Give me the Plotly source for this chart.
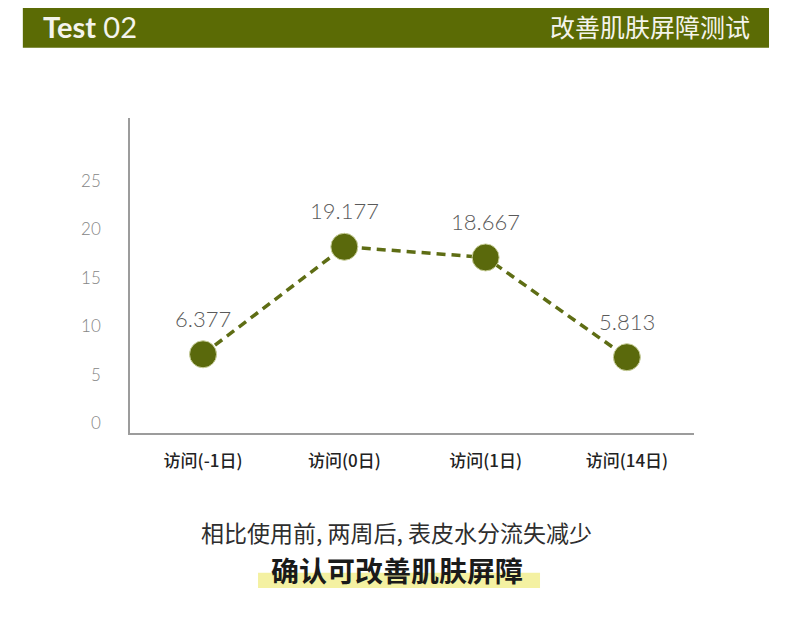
import plotly.graph_objects as go

# visits and measured values
visits = ["访问(-1日)", "访问(0日)", "访问(1日)", "访问(14日)"]
value_labels = ["6.377", "19.177", "18.667", "5.813"]
# marker heights as drawn in the source graphic
marker_y = [7.1, 18.2, 17.1, 6.8]
y_ticks = [0, 5, 10, 15, 20, 25]

olive = "#5b6b05"
cjk = "Lato, Noto Sans CJK SC, sans-serif"

x_pos = list(range(len(visits)))

fig = go.Figure()

fig.add_trace(go.Scatter(
    x=x_pos, y=marker_y,
    mode="lines+markers",
    line=dict(color="#5e6d14", width=3.5, dash="9px,6px"),
    marker=dict(size=27, color="#5a690c", line=dict(color="#c9cf9c", width=1)),
    hoverinfo="skip",
    showlegend=False,
))

# value labels above each point
annotations = []
for xv, yv, lab in zip(x_pos, marker_y, value_labels):
    annotations.append(dict(
        x=xv, y=yv, xref="x", yref="y", text=lab, showarrow=False,
        yshift=36, font=dict(family=cjk, size=22, color="#5a5a5a", weight=300),
    ))

# header bar texts
annotations.append(dict(
    x=-0.157, y=1.292, xref="paper", yref="paper", xanchor="left", yanchor="middle",
    text="<b>Test</b> 02", showarrow=False,
    font=dict(family="Lato, Open Sans, sans-serif", size=29, color="#f4f4ec"),
))
annotations.append(dict(
    x=1.103, y=1.292, xref="paper", yref="paper", xanchor="right", yanchor="middle",
    text="改善肌肤屏障测试", showarrow=False,
    font=dict(family="Noto Sans CJK SC", size=25, color="#f4f4ec"),
))

# bottom caption
annotations.append(dict(
    x=0.473, y=-0.314, xref="paper", yref="paper", xanchor="center", yanchor="middle",
    text="相比使用前, 两周后, 表皮水分流失减少", showarrow=False,
    font=dict(family="Noto Sans CJK SC", size=23, color="#2e2e2e"),
))
annotations.append(dict(
    x=0.473, y=-0.435, xref="paper", yref="paper", xanchor="center", yanchor="middle",
    text="<b>确认可改善肌肤屏障</b>", showarrow=False,
    font=dict(family="Noto Sans CJK SC", size=28, color="#1a1a1a"),
))

shapes = [
    # header bar
    dict(type="rect", xref="paper", yref="paper", x0=-0.190, x1=1.133, y0=1.223, y1=1.371,
         fillcolor=olive, line=dict(width=0), layer="below"),
    # highlight under the second caption line
    dict(type="rect", xref="paper", yref="paper", x0=0.227, x1=0.727, y0=-0.492, y1=-0.444,
         fillcolor="#f4f1a2", line=dict(width=0), layer="below"),
]

fig.update_layout(
    width=782, height=626,
    margin=dict(l=122, r=96, t=110, b=201),
    paper_bgcolor="white", plot_bgcolor="white",
    annotations=annotations,
    shapes=shapes,
    xaxis=dict(
        range=[-0.517, 3.475], tickvals=x_pos, ticktext=visits,
        showgrid=False, zeroline=False, showline=True, linecolor="#9c9c9c", linewidth=1.5,
        ticks="", ticklabelstandoff=12,
        tickfont=dict(family="Noto Sans CJK SC", size=17, color="#222222", weight=500),
    ),
    yaxis=dict(
        range=[-1.03, 31.5], tickvals=y_ticks,
        showgrid=False, zeroline=False, showline=True, linecolor="#9c9c9c", linewidth=1.5,
        ticks="", ticklabelstandoff=24,
        tickfont=dict(family="Lato, sans-serif", size=17, color="#858585", weight=300),
    ),
)

fig.write_html("out.html")
